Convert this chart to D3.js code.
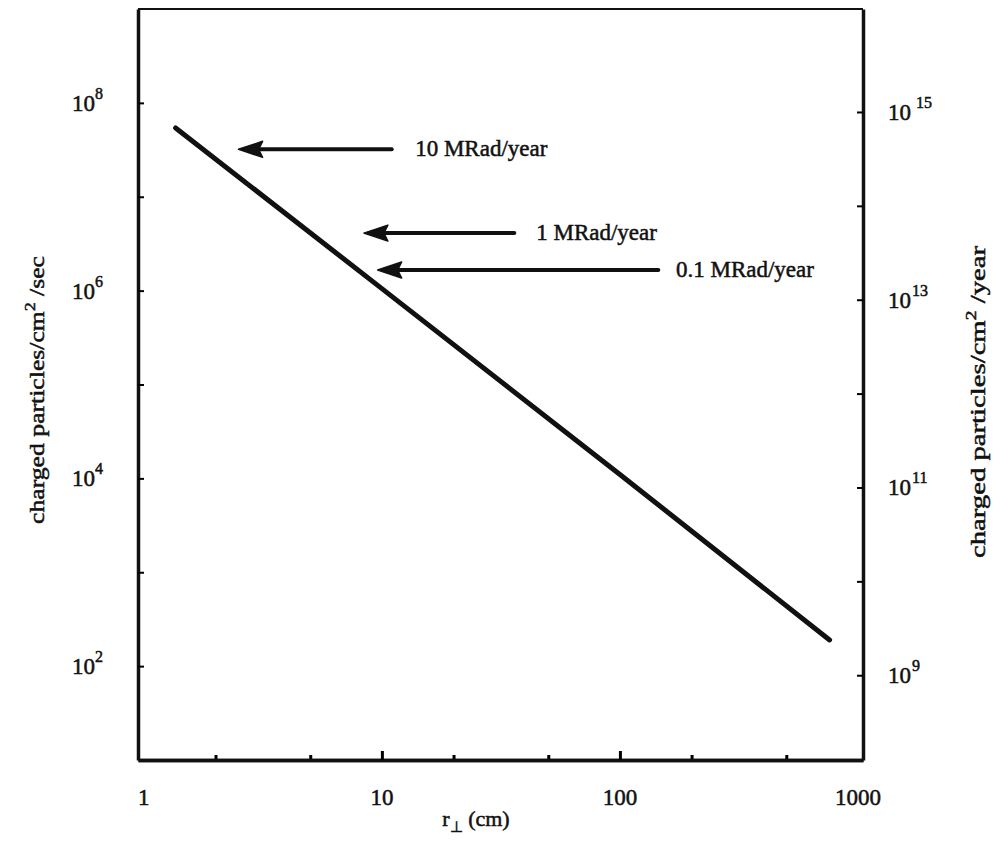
<!DOCTYPE html>
<html>
<head>
<meta charset="utf-8">
<script src="https://cdn.jsdelivr.net/npm/d3@7"></script>
<style>
  body { margin: 0; background: #fff; }
  svg text { font-family: "Liberation Serif", "Times New Roman", serif; fill: #111; stroke: #111; stroke-width: 0.5px; }
</style>
</head>
<body>
<div id="chart"></div>
<script>
// line: r (cm) vs charged particles/cm^2/sec
const rCm = [1.36, 10, 100, 760];
const fluxPerSec = [5.4e7, 1.05e6, 1.1e4, 190];

// dose-rate arrows
const doseLabels = ["10 MRad/year", "1 MRad/year", "0.1 MRad/year"];
const arrowFlux = [3.2e7, 4.1e6, 1.66e6];
const arrowTipR = [2.5, 8.4, 9.6];
const arrowTailR = [11, 36, 145];
const labelR = [13.8, 44.5, 172];

// ticks
const xLabelValues = [1, 10, 100, 1000];
const xMajorTicks = [10, 100];
const xMinorTicks = [2, 5, 20, 50, 200, 500];
const leftTicks = [1e2, 1e3, 1e4, 1e5, 1e6, 1e7, 1e8];
const leftExponents = [2, 4, 6, 8];
const rightTicks = [1e9, 1e10, 1e11, 1e12, 1e13, 1e14, 1e15];
const rightExponents = [9, 11, 13, 15];
const secPerYearAxis = 1.25e7; // offset of right axis as drawn

const width = 1004;
const height = 856;
const plot = { left: 138, right: 863, top: 9, bottom: 760 };

const svg = d3.select("#chart")
    .append("svg")
    .attr("width", width)
    .attr("height", height);

const xScale = d3.scaleLog()
    .domain([0.945, 1050])
    .range([plot.left, plot.right]);

const yLeft = d3.scaleLog()
    .domain([10, 1e9])
    .range([plot.bottom, plot.top]);

const yRight = d3.scaleLog()
    .domain([10 * secPerYearAxis, 1e9 * secPerYearAxis])
    .range([plot.bottom, plot.top]);

// frame top
svg.append("line")
    .attr("x1", plot.left).attr("x2", plot.right)
    .attr("y1", plot.top).attr("y2", plot.top)
    .attr("stroke", "#111").attr("stroke-width", 2);

// axes, ticks pointing inside
svg.append("g")
    .attr("transform", `translate(0,${plot.bottom})`)
    .call(d3.axisBottom(xScale).tickValues(xMinorTicks).tickSizeInner(-5).tickSizeOuter(0).tickFormat(""))
    .call(g => g.selectAll(".tick line").attr("stroke-width", 3));

svg.append("g")
    .attr("transform", `translate(0,${plot.bottom})`)
    .call(d3.axisBottom(xScale).tickValues(xMajorTicks).tickSizeInner(-9).tickSizeOuter(0).tickFormat(""))
    .call(g => g.selectAll(".tick line").attr("stroke-width", 3));

svg.append("g")
    .attr("transform", `translate(${plot.left},0)`)
    .call(d3.axisLeft(yLeft).tickValues(leftTicks).tickSizeInner(-6).tickSizeOuter(0).tickFormat(""))
    .call(g => g.selectAll(".tick line").attr("stroke-width", 2));

svg.append("g")
    .attr("transform", `translate(${plot.right},0)`)
    .call(d3.axisRight(yRight).tickValues(rightTicks).tickSizeInner(-6).tickSizeOuter(0).tickFormat(""))
    .call(g => g.selectAll(".tick line").attr("stroke-width", 2));

svg.selectAll(".domain")
    .attr("stroke", "#111")
    .attr("stroke-width", 3.5);

// tick labels
svg.selectAll(".xlabel")
    .data(xLabelValues)
    .enter()
    .append("text")
    .attr("x", d => xScale(d))
    .attr("y", 805)
    .attr("text-anchor", "middle")
    .style("font-size", "23px")
    .text(d => d);

const leftLab = svg.selectAll(".ylabel")
    .data(leftExponents)
    .enter()
    .append("text")
    .attr("x", 72)
    .attr("y", d => yLeft(Math.pow(10, d)) + 8)
    .style("font-size", "23px");
leftLab.append("tspan").text("10");
leftLab.append("tspan")
    .attr("dy", -12)
    .style("font-size", "16px")
    .text(d => d);

const rightLab = svg.selectAll(".rlabel")
    .data(rightExponents)
    .enter()
    .append("text")
    .attr("x", 888)
    .attr("y", d => yRight(Math.pow(10, d)) + 8)
    .style("font-size", "23px");
rightLab.append("tspan").text("10");
rightLab.append("tspan")
    .attr("dx", d => d === 15 ? 5 : 1)
    .attr("dy", -12)
    .style("font-size", "16px")
    .text(d => d);

// the line
const line = d3.line()
    .x((d, i) => xScale(rCm[i]))
    .y(d => yLeft(d));

svg.append("path")
    .datum(fluxPerSec)
    .attr("fill", "none")
    .attr("stroke", "#111")
    .attr("stroke-width", 5)
    .attr("stroke-linecap", "round")
    .attr("d", line);

// arrows + labels
doseLabels.forEach((label, i) => {
    const y = yLeft(arrowFlux[i]);
    const tip = xScale(arrowTipR[i]);
    const tail = xScale(arrowTailR[i]);
    svg.append("line")
        .attr("x1", tip + 18).attr("x2", tail)
        .attr("y1", y).attr("y2", y)
        .attr("stroke", "#111")
        .attr("stroke-width", 4)
        .attr("stroke-linecap", "round");
    svg.append("path")
        .attr("d", `M${tip},${y} L${tip + 24},${y - 8} L${tip + 20},${y} L${tip + 24},${y + 8} Z`)
        .attr("fill", "#111")
        .attr("stroke", "#111")
        .attr("stroke-linejoin", "round")
        .attr("stroke-width", 1.5);
    svg.append("text")
        .attr("x", xScale(labelR[i]))
        .attr("y", y + 7)
        .style("font-size", "23px")
        .text(label);
});

// axis titles
const xTitle = svg.append("text")
    .attr("x", 476)
    .attr("y", 826)
    .attr("text-anchor", "middle")
    .style("font-size", "22px");
xTitle.append("tspan").text("r");
xTitle.append("tspan").attr("dy", 6).style("font-size", "15px").text("⊥");
xTitle.append("tspan").attr("dy", -6).text(" (cm)");

const leftTitle = svg.append("text")
    .attr("transform", "rotate(-90)")
    .attr("x", -390)
    .attr("y", 44)
    .attr("text-anchor", "middle")
    .attr("textLength", 268)
    .attr("lengthAdjust", "spacingAndGlyphs")
    .style("font-size", "22px");
leftTitle.append("tspan").text("charged particles/cm");
leftTitle.append("tspan").attr("dy", -9).style("font-size", "15px").text("2");
leftTitle.append("tspan").attr("dy", 9).text(" /sec");

const rightTitle = svg.append("text")
    .attr("transform", "rotate(-90)")
    .attr("x", -402)
    .attr("y", 985)
    .attr("text-anchor", "middle")
    .attr("textLength", 312)
    .attr("lengthAdjust", "spacingAndGlyphs")
    .style("font-size", "22px");
rightTitle.append("tspan").text("charged particles/cm");
rightTitle.append("tspan").attr("dy", -9).style("font-size", "15px").text("2");
rightTitle.append("tspan").attr("dy", 9).text(" /year");
</script>
</body>
</html>
